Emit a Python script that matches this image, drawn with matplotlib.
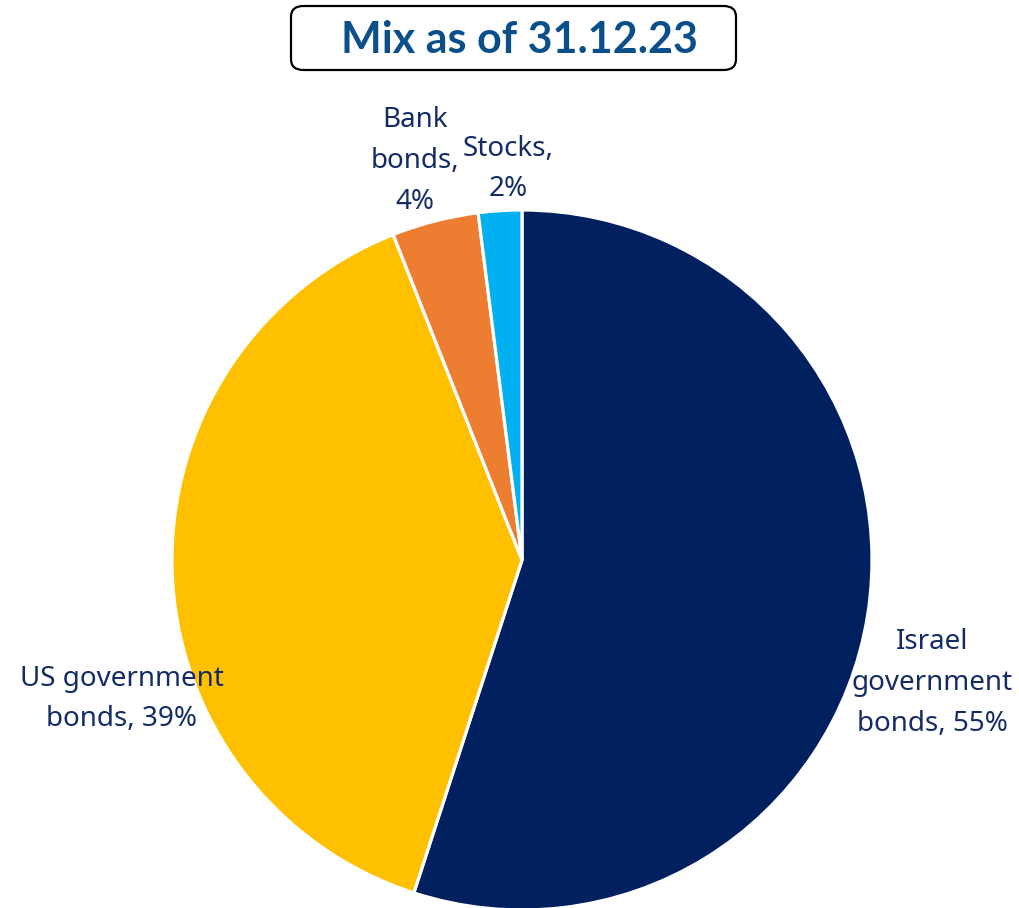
import matplotlib.pyplot as plt
from matplotlib.patches import FancyBboxPatch

plt.rcParams['font.family'] = ['Noto Sans', 'DejaVu Sans']

labels = ["Israel\ngovernment\nbonds, 55%", "US government\nbonds, 39%",
          "Bank\nbonds,\n4%", "Stocks,\n2%"]
shares = [55, 39, 4, 2]
colors = ["#002060", "#FFC000", "#ED7D31", "#00B0F0"]
title = "Mix as of 31.12.23"

W, H = 1020, 908
fig = plt.figure(figsize=(W / 100, H / 100), dpi=100)

# pie axes: centre (522, 560) px from top, radius 350 px
cx, cy, r = 522, 560, 350
ax = fig.add_axes([(cx - r) / W, (H - cy - r) / H, 2 * r / W, 2 * r / H])
ax.pie(shares, colors=colors, startangle=90, counterclock=False,
       wedgeprops=dict(edgecolor="white", linewidth=2.3))
ax.set_xlim(-1, 1)
ax.set_ylim(-1, 1)
ax.set_aspect("equal")
ax.axis("off")

# label positions in px (x, y from top)
label_pos = [(932, 683), (122, 699), (415, 161), (508, 169)]
for lab, (x, y) in zip(labels, label_pos):
    fig.text(x / W, 1 - y / H, lab, ha="center", va="center",
             fontsize=20, color="#142B66", linespacing=1.6, multialignment="center")

# boxed title
box = FancyBboxPatch((291 / W, 1 - 70 / H), 445 / W, 64 / H,
                     boxstyle="round,pad=0,rounding_size=0.012",
                     transform=fig.transFigure, facecolor="white",
                     edgecolor="black", linewidth=1.6)
fig.patches.append(box)
fig.text(519 / W, 1 - 40 / H, title, ha="center", va="center",
         fontsize=31, fontweight="bold", color="#0B4F8A",
         family=["Lato", "Open Sans", "DejaVu Sans"])

fig.savefig("out.png", dpi=100)
